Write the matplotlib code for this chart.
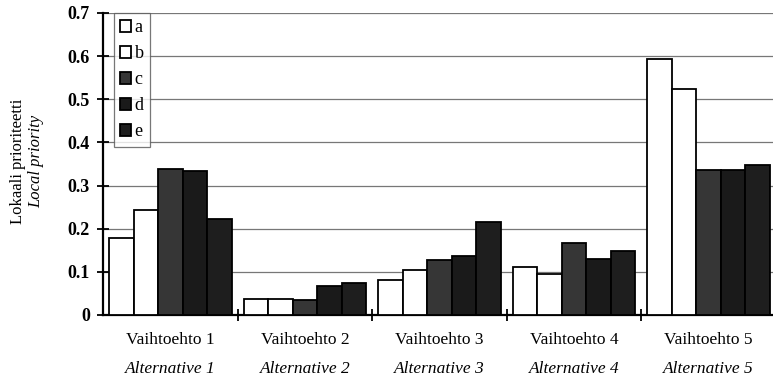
import matplotlib
matplotlib.use("Agg")
import matplotlib.pyplot as plt
import numpy as np

categories_fi = ["Vaihtoehto 1", "Vaihtoehto 2", "Vaihtoehto 3", "Vaihtoehto 4", "Vaihtoehto 5"]
categories_en = ["Alternative 1", "Alternative 2", "Alternative 3", "Alternative 4", "Alternative 5"]
series_names = ["a", "b", "c", "d", "e"]
a = [0.178, 0.037, 0.081, 0.112, 0.593]
b = [0.244, 0.037, 0.104, 0.094, 0.524]
c = [0.339, 0.035, 0.128, 0.166, 0.336]
d = [0.333, 0.068, 0.137, 0.130, 0.336]
e = [0.223, 0.073, 0.215, 0.148, 0.348]
series = [a, b, c, d, e]
yticks = [0, 0.1, 0.2, 0.3, 0.4, 0.5, 0.6, 0.7]

colors = ["#ffffff", "#ffffff", "#363636", "#1a1a1a", "#1e1e1e"]

plt.rcParams['font.family'] = ['Liberation Serif', 'DejaVu Serif']

fig = plt.figure(figsize=(7.73, 3.79), dpi=100)
ax = fig.add_axes([0.1332, 0.1689, 0.8706, 0.7968])

n = len(categories_fi)
bw = 0.182
x = np.arange(n)
handles = []
for i, (vals, col) in enumerate(zip(series, colors)):
    offs = (i - 2) * bw
    h = ax.bar(x + offs, vals, width=bw, color=col, edgecolor="black", linewidth=1.3,
               label=series_names[i], zorder=3)
    handles.append(h)

ax.set_xlim(-0.5, n - 0.5)
ax.set_ylim(0, 0.7)
ax.set_yticks(yticks)
ax.set_yticklabels(["0" if t == 0 else f"{t:.1f}" for t in yticks], fontweight="bold", fontsize=13)
for t in yticks[1:]:
    ax.axhline(t, color="#777777", linewidth=0.9, zorder=1)

ax.set_xticks(np.arange(0.5, n - 0.5, 1.0))
ax.set_xticklabels([])
ax.tick_params(axis="x", direction="inout", length=9, width=1.3)
ax.tick_params(axis="y", direction="inout", length=9, width=1.3, pad=5)
for s in ["top", "right"]:
    ax.spines[s].set_visible(False)
ax.spines["left"].set_linewidth(1.6)
ax.spines["bottom"].set_linewidth(1.6)

for i in range(n):
    ax.text(i, -0.058, categories_fi[i], ha="center", va="center", fontsize=12.5,
            transform=ax.transData)
    ax.text(i, -0.125, categories_en[i], ha="center", va="center", fontsize=12.5,
            style="italic", transform=ax.transData)

fig.text(0.023, 0.573, "Lokaali prioriteetti", rotation=90, ha="center", va="center", fontsize=12)
fig.text(0.047, 0.573, "Local priority", rotation=90, ha="center", va="center", fontsize=12,
         style="italic")

leg = ax.legend(handles=handles, labels=series_names, loc="upper left",
                bbox_to_anchor=(0.016, 1.0), fontsize=13, frameon=True, fancybox=False,
                edgecolor="#555555", handlelength=0.6, handleheight=0.6, handletextpad=0.2,
                borderpad=0.35, labelspacing=0.5, borderaxespad=0)
leg.get_frame().set_linewidth(0.9)
leg.set_zorder(5)

fig.savefig("out.png", dpi=100)
